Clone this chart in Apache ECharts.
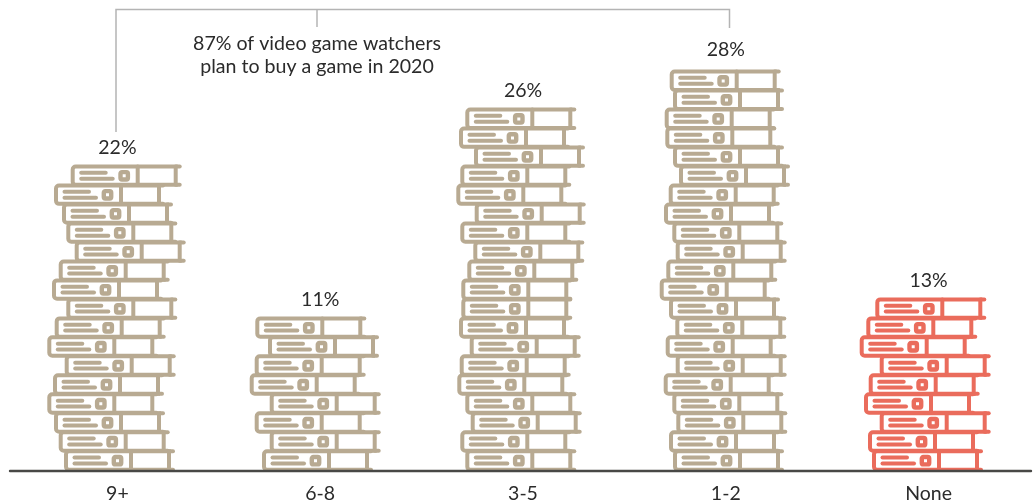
<!DOCTYPE html>
<html>
<head>
<meta charset="utf-8">
<style>html,body{margin:0;padding:0;background:#fff}#c{width:1036px;height:504px}</style>
<script src="https://cdn.jsdelivr.net/npm/echarts@6/dist/echarts.min.js"></script>
</head>
<body>
<div id="c"></div>
<script>
const categories = ['9+', '6-8', '3-5', '1-2', 'None'];
const percents = [22, 11, 26, 28, 13];
const barColors = ['#b8aa92', '#b8aa92', '#b8aa92', '#b8aa92', '#ea6c5c'];
// Each stack is read top to bottom: how far each game box sits from the category centre.
const stack9plus = [-44.7,-61.4,-53.4,-49.1,-40.7,-56.7,-63.4,-49.1,-60.7,-68.1,-50.7,-62.4,-68.1,-61.4,-56.7,-51.4];
const stack6to8 = [-62.9,-50.2,-63.5,-68.5,-48.5,-63.5,-48.5,-56.2];
const stack3to5 = [-55.7,-62,-47,-60.7,-64.7,-46.3,-60.7,-47.7,-53.7,-59.7,-59.7,-62,-51.3,-61.3,-63.7,-55.7,-50.3,-60.7,-55.7];
const stack1to2 = [-54.1,-50.8,-59.1,-58.5,-50.8,-44.8,-55.1,-59.8,-51.5,-48.1,-57.5,-64.1,-54.8,-48.5,-58.1,-48.1,-60.1,-51.5,-47.5,-54.8,-50.8];
const stackNone = [-51.3,-60.3,-66.9,-46.9,-57.9,-62.6,-46.9,-58.6,-54.6];
const noteLines = '87% of video game watchers\nplan to buy a game in 2020';

const FONT = 'Lato, "Noto Sans", sans-serif';
const stacks = [stack9plus, stack6to8, stack3to5, stack1to2, stackNone];
const boxes = [];
stacks.forEach((s, c) => s.forEach((shift, i) => boxes.push([c, s.length - 1 - i, shift])));
const tops = stacks.map((s, c) => ({
  value: [c, s.length, percents[c]],
  label: { distance: s.length > 20 ? 11 : 8 }
}));

function renderBox(params, api) {
  const c = api.value(0), lvl = api.value(1), shift = api.value(2);
  const base = api.coord([c, lvl]);
  const topPt = api.coord([c, lvl + 1]);
  const L = base[0] + shift, T = topPt[1], H = base[1] - topPt[1];
  const col = barColors[c];
  const st = { stroke: col, lineWidth: 4, fill: null, lineCap: 'round' };
  const line = (x1, y1, x2, y2) => ({ type: 'line', shape: { x1, y1, x2, y2 }, style: st, silent: true });
  const inner = H - 0.6;
  return {
    type: 'group', x: L, y: T + 0.3,
    children: [
      { type: 'rect', shape: { x: 0, y: 0, width: 103, height: inner, r: [3, 0, 0, 3] }, style: st },
      line(103, 0, 107, 0),
      line(103, inner, 107, inner),
      line(65, 0, 65, inner),
      line(8.5, 6.3, 33, 6.3),
      line(8.5, 12.2, 40, 12.2),
      { type: 'rect', shape: { x: 47.8, y: 5.7, width: 7.4, height: 7.4, r: 1.5 }, style: Object.assign({}, st, { lineWidth: 4.4 }) }
    ]
  };
}

const chart = echarts.init(document.getElementById('c'), null, { renderer: 'canvas' });
chart.setOption({
  animation: false,
  backgroundColor: '#ffffff',
  grid: [
    { left: 16, width: 1014, top: 0, height: 471, containLabel: false },
    { left: 10, width: 1021, top: 0, height: 471, containLabel: false }
  ],
  xAxis: [
    { type: 'category', gridIndex: 0, data: categories,
      axisLine: { show: false }, axisTick: { show: false },
      axisLabel: { color: '#2b2b2b', fontFamily: FONT, fontSize: 19.5, margin: 14 } },
    { type: 'value', gridIndex: 1, min: 0, max: 1, z: 10,
      axisLine: { show: true, onZero: false, lineStyle: { color: '#484846', width: 2.4 } },
      axisTick: { show: false }, axisLabel: { show: false }, splitLine: { show: false } }
  ],
  yAxis: [
    { type: 'value', gridIndex: 0, min: 0, max: 24.75, show: false },
    { type: 'value', gridIndex: 1, min: 0, max: 1, show: false }
  ],
  series: [
    { type: 'custom', xAxisIndex: 0, yAxisIndex: 0, data: boxes, renderItem: renderBox, clip: false, silent: true, z: 2 },
    { type: 'scatter', xAxisIndex: 0, yAxisIndex: 0, data: tops, symbolSize: 1, silent: true,
      itemStyle: { color: 'transparent', opacity: 1 },
      label: { show: true, position: 'top', distance: 8, color: '#2b2b2b', fontFamily: FONT, fontSize: 19.5,
        formatter: p => p.value[2] + '%' } }
  ],
  graphic: [
    { type: 'polyline', silent: true, z: 1,
      shape: { points: [[116, 132], [116, 9.5], [729.5, 9.5], [729.5, 28]] },
      style: { stroke: '#b4b4b4', lineWidth: 1.5, fill: null } },
    { type: 'line', silent: true, z: 1,
      shape: { x1: 317, y1: 9.5, x2: 317, y2: 27 },
      style: { stroke: '#b4b4b4', lineWidth: 1.5 } },
    { type: 'text', silent: true, z: 5, x: 317, y: 32,
      style: { text: noteLines, fill: '#2b2b2b', font: '19.6px ' + FONT, lineHeight: 23, align: 'center', verticalAlign: 'top' } }
  ]
});
</script>
</body>
</html>
